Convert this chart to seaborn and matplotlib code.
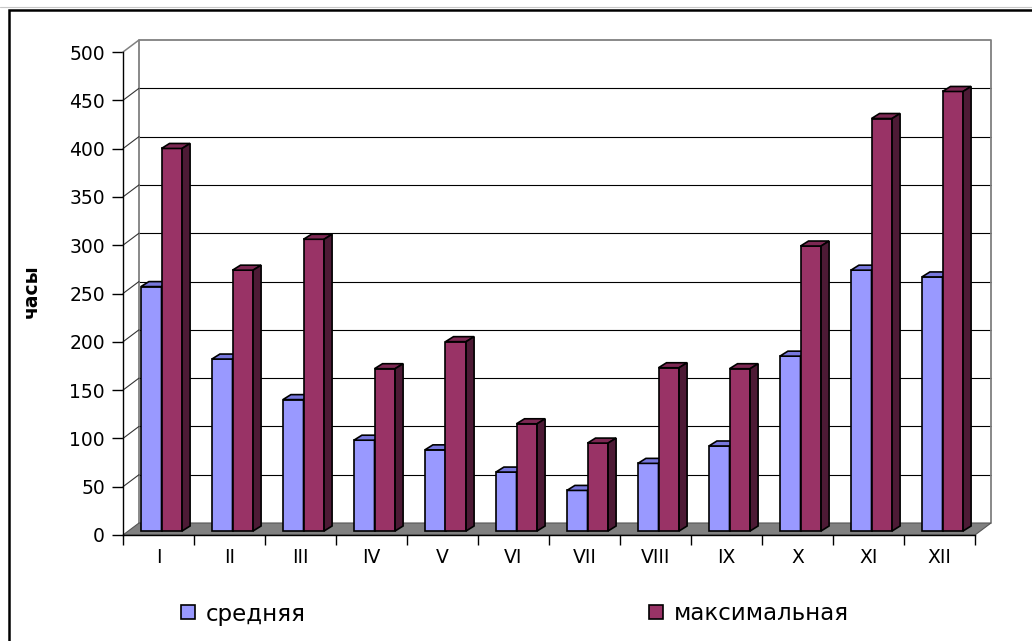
import numpy as np
import pandas as pd
import matplotlib
matplotlib.use("Agg")
import matplotlib.pyplot as plt
import matplotlib.transforms as mtransforms
from matplotlib.patches import Polygon, Rectangle, Patch
from matplotlib.lines import Line2D
import seaborn as sns

# Monthly hours: average and maximum
months = ["I", "II", "III", "IV", "V", "VI", "VII", "VIII", "IX", "X", "XI", "XII"]
series_names = ["средняя", "максимальная"]
avg_hours = [253, 178, 136, 94, 84, 61, 42, 70, 88, 181, 270, 263]
max_hours = [396, 270, 302, 168, 196, 111, 91, 169, 168, 295, 427, 455]
y_ticks = list(range(0, 501, 50))
y_title = "часы"

front_colors = ["#9999FF", "#993366"]
top_colors = ["#7777DD", "#7D2853"]
side_colors = ["#5C5CA8", "#4D1A35"]

sns.set_theme(style="white")
plt.rcParams["font.family"] = ["DejaVu Sans"]
plt.rcParams["text.color"] = "black"

W, H, DPI = 1032, 641, 100
fig = plt.figure(figsize=(W / DPI, H / DPI), dpi=DPI)
fig.patch.set_facecolor("white")

# front plane of the plot box (pixel edges)
L, R, T, B = 123, 975, 52, 535
ax = fig.add_axes([L / W, (H - B) / H, (R - L) / W, (B - T) / H])
ax.patch.set_facecolor("none")

df = pd.DataFrame({
    "month": months * 2,
    "series": np.repeat(series_names, len(months)),
    "hours": avg_hours + max_hours,
})
sns.barplot(data=df, x="month", y="hours", hue="series", order=months,
            hue_order=series_names, palette=front_colors, saturation=1,
            width=0.58, edgecolor="black", linewidth=1.2, ax=ax, legend=False)

ax.set_xlim(-0.5, len(months) - 0.5)
ax.set_ylim(0, 500)

ux = len(months) / (R - L)   # data units per pixel, x
uy = 500 / (B - T)           # data units per pixel, y


def shifted(dx_px, dy_px):
    return ax.transData + mtransforms.ScaledTranslation(
        dx_px / DPI, dy_px / DPI, fig.dpi_scale_trans)


# depth offsets (pixels): back wall and the plane the columns stand in
BACK = (16, 12)
BAR = (3, 4)
back_tr = shifted(*BACK)
bar_tr = shifted(*BAR)
x0, x1 = -0.5, len(months) - 0.5

# back wall with gridlines
ax.add_patch(Rectangle((x0, 0), x1 - x0, 500, transform=back_tr,
                       facecolor="white", edgecolor="none", zorder=0.5, clip_on=False))
for v in y_ticks[1:-1]:
    ax.add_line(Line2D([x0, x1], [v, v], transform=back_tr, color="black",
                       lw=0.8, zorder=0.6, clip_on=False))
ax.add_line(Line2D([x0, x0, x1, x1], [0, 500, 500, 0], transform=back_tr,
                   color="#808080", lw=1.3, zorder=0.7, clip_on=False))

# side wall gridlines running from the axis back to the wall
bdx, bdy = BACK[0] * ux, BACK[1] * uy
for v in y_ticks[1:]:
    ax.add_line(Line2D([x0, x0 + bdx], [v, v + bdy], color="#808080" if v == 500 else "#333333",
                       lw=1.1 if v == 500 else 0.8, zorder=0.7, clip_on=False))

# floor
ax.add_patch(Polygon([(x0, 0), (x1, 0), (x1 + bdx, bdy), (x0 + bdx, bdy)],
                     closed=True, facecolor="#808080", edgecolor="#555555",
                     lw=0.8, zorder=0.8, clip_on=False))

# columns: front faces from seaborn, plus top and side faces
cdx, cdy = 8 * ux, 5 * uy
for s, container in enumerate(ax.containers):
    for rect in container.patches:
        rect.set_transform(bar_tr)
        rect.set_clip_on(False)
        rect.set_zorder(3 + s)
        xa = rect.get_x()
        w = rect.get_width()
        h = rect.get_height()
        top = Polygon([(xa, h), (xa + w, h), (xa + w + cdx, h + cdy), (xa + cdx, h + cdy)],
                      closed=True, facecolor=top_colors[s], edgecolor="black",
                      lw=1.2, transform=bar_tr, zorder=3 + s, clip_on=False)
        side = Polygon([(xa + w, 0), (xa + w + cdx, cdy), (xa + w + cdx, h + cdy), (xa + w, h)],
                       closed=True, facecolor=side_colors[s], edgecolor="black",
                       lw=1.2, transform=bar_tr, zorder=3 + s, clip_on=False)
        ax.add_patch(top)
        ax.add_patch(side)

# axes, ticks and labels
for name in ("top", "right"):
    ax.spines[name].set_visible(False)
for name in ("left", "bottom"):
    ax.spines[name].set_color("black")
    ax.spines[name].set_linewidth(1.0)
    ax.spines[name].set_zorder(5)

ax.set_yticks(y_ticks)
ax.tick_params(axis="y", left=True, length=8, width=1, color="black",
               direction="out", pad=5, labelsize=13.5, labelcolor="black")
ax.set_xticks(range(len(months)), months)
ax.set_xticks(np.arange(len(months) + 1) - 0.5, minor=True)
ax.tick_params(axis="x", which="major", bottom=True, length=0, pad=9.5,
               labelsize=13.5, labelcolor="black")
ax.tick_params(axis="x", which="minor", bottom=True, length=7, width=1,
               color="black", direction="out")

ax.set_xlabel("")
ax.set_ylabel(y_title, fontsize=13.5, fontweight="bold", color="black")
ax.yaxis.set_label_coords((31.5 - L) / (R - L), (B - 291) / (B - T))
ax.yaxis.label.set_verticalalignment("center")

# legend
handles = [Patch(facecolor=c, edgecolor="black", linewidth=1.2) for c in front_colors]
fig.legend(handles, series_names, loc="center left",
           bbox_to_anchor=(181 / W, (H - 614) / H), ncol=2, frameon=False,
           fontsize=16.5, handlelength=0.62, handleheight=0.55,
           handletextpad=0.45, columnspacing=15.0, borderpad=0,
           borderaxespad=0, labelcolor="black")

# chart frame
fig.add_artist(Line2D([0, 1], [(H - 6.7) / H] * 2, transform=fig.transFigure,
                      color="#C8C8C8", lw=0.8))
fig.add_artist(Rectangle((8.7 / W, -0.5), 2, (H - 9.5) / H + 0.5,
                         transform=fig.transFigure, fill=False,
                         edgecolor="black", lw=1.8))

fig.savefig("out.png", dpi=DPI, facecolor="white")
